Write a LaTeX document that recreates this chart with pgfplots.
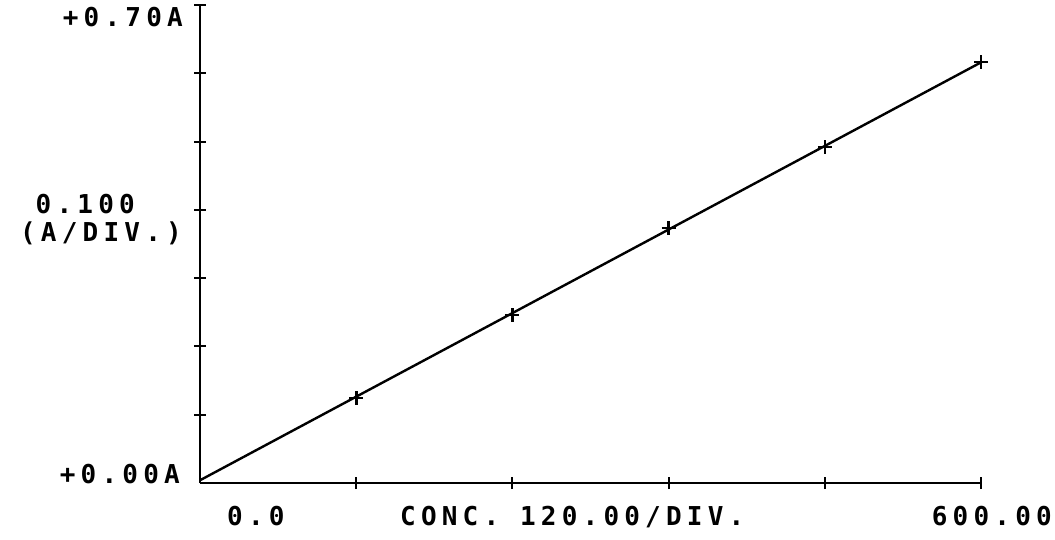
\documentclass[border=0pt]{standalone}
\usepackage{fontspec}
\setmonofont{DejaVu Sans Mono}
\newfontfamily\plotterfont[LetterSpace=20]{DejaVu Sans Mono Bold}
\usepackage{pgfplots}
\pgfplotsset{compat=1.18}

% calibration points: concentration vs absorbance
\pgfplotstableread{
conc  abs
120   0.1245
240   0.2460
360   0.3734
480   0.4920
600   0.6164
}\calpoints

\begin{document}
\begin{tikzpicture}[x=1pt,y=1pt,font=\plotterfont\fontsize{26}{28}\selectfont]
\path[use as bounding box] (0,0) rectangle (1055,539);
\begin{axis}[
  at={(200pt,56pt)}, anchor=south west,
  scale only axis, width=781pt, height=478pt,
  xmin=0, xmax=600, ymin=0, ymax=0.70,
  axis x line=bottom, axis y line=left,
  axis line style={-, line width=2.8pt},
  x axis line style={line width=2.2pt},
  xtick={120,240,360,480,600}, ytick={0.1,0.2,0.3,0.4,0.5,0.6,0.7},
  xticklabels={}, yticklabels={},
  tick align=center, major tick length=12pt,
  tick style={black, line width=2pt},
  clip=false,
]
  % least-squares line
  \addplot[black, line width=2.4pt] coordinates {(0,0.004) (600,0.616)};
  \addplot[only marks, mark=+, mark size=7pt, mark options={line width=2.6pt}, black]
    table[x=conc, y=abs] {\calpoints};
\end{axis}
\node[anchor=base east, inner sep=0] at (183,512) {+0.70A};
\node[anchor=base east, inner sep=0] at (135,325) {0.100};
\node[anchor=base east, inner sep=0] at (182,297) {(A/DIV.)};
\node[anchor=base east, inner sep=0] at (180,56) {+0.00A};
\node[anchor=base west, inner sep=0] at (227,14) {0.0};
\node[anchor=base west, inner sep=0] at (400,14) {CONC. 120.00/DIV.};
\node[anchor=base east, inner sep=0] at (1052,14) {600.00};
\end{tikzpicture}
\end{document}
